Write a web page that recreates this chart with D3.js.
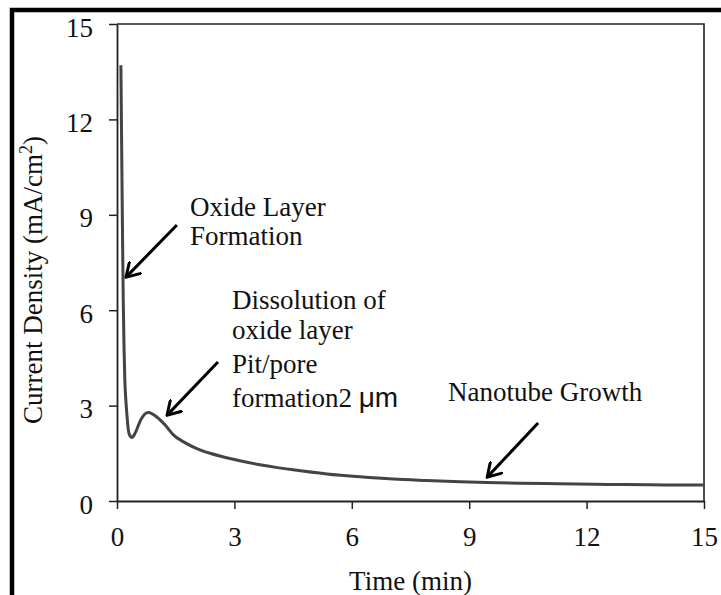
<!DOCTYPE html>
<html>
<head>
<meta charset="utf-8">
<script src="https://cdn.jsdelivr.net/npm/d3@7"></script>
<style>
  html, body { margin: 0; padding: 0; background: #fff; }
  svg { display: block; }
  text { font-family: "Liberation Serif", "Times New Roman", serif; fill: #111; }
</style>
</head>
<body>
<script>
// Anodization current transient: current density vs. time
const timeMin = [0.10, 0.12, 0.14, 0.16, 0.18, 0.20, 0.23, 0.25, 0.29, 0.33, 0.375, 0.43, 0.50, 0.57, 0.63, 0.70, 0.80, 0.90, 1.01, 1.12, 1.23, 1.44, 1.70, 2.04, 2.38, 2.80, 3.23, 3.65, 4.10, 4.50, 5.36, 6.21, 7.06, 7.91, 8.77, 9.45, 10.3, 11.3, 12.2, 13.0, 14.0, 15.0];
const currentDensity = [13.7, 11.0, 8.5, 6.3, 4.8, 3.8, 3.1, 2.76, 2.23, 2.05, 2.0, 2.06, 2.23, 2.45, 2.6, 2.72, 2.78, 2.74, 2.65, 2.53, 2.39, 2.08, 1.86, 1.65, 1.50, 1.36, 1.24, 1.14, 1.05, 0.98, 0.85, 0.76, 0.69, 0.645, 0.605, 0.58, 0.56, 0.54, 0.525, 0.515, 0.505, 0.50];

const xTicks = [0, 3, 6, 9, 12, 15];
const yTicks = [0, 3, 6, 9, 12, 15];

// Annotation arrows: [tailTime, tailCurrent, tipTime, tipCurrent]
const arrowOxide = [1.53, 8.68, 0.23, 7.04];
const arrowDissolution = [2.58, 4.37, 1.28, 2.70];
const arrowGrowth = [10.76, 2.45, 9.46, 0.75];

const W = 721, H = 595;
const margin = { left: 117, right: 17, top: 24, bottom: 94 };

const svg = d3.select("body").append("svg")
  .attr("width", W).attr("height", H);

// outer frame
svg.append("path")
  .attr("d", `M12,${H + 5} L12,10 L${W + 5},10`)
  .attr("fill", "none").attr("stroke", "#000").attr("stroke-width", 4.5);

const x = d3.scaleLinear().domain([0, 15]).range([margin.left, W - margin.right]);
const y = d3.scaleLinear().domain([0, 15]).range([H - margin.bottom, margin.top]);

// plot box (top and right)
svg.append("path")
  .attr("d", `M${x(0)},${y(15)} L${x(15)},${y(15)} L${x(15)},${y(0)}`)
  .attr("fill", "none").attr("stroke", "#222").attr("stroke-width", 1.6);

const xAxis = svg.append("g")
  .attr("transform", `translate(0,${y(0)})`)
  .call(d3.axisBottom(x).tickValues(xTicks).tickSize(8).tickSizeOuter(0).tickPadding(18).tickFormat(d3.format("d")));
const yAxis = svg.append("g")
  .attr("transform", `translate(${x(0)},0)`)
  .call(d3.axisLeft(y).tickValues(yTicks).tickSize(8).tickSizeOuter(0).tickPadding(16).tickFormat(d3.format("d")));

[xAxis, yAxis].forEach(g => {
  g.select(".domain").attr("stroke", "#222").attr("stroke-width", 1.8);
  g.selectAll(".tick line").attr("stroke", "#222").attr("stroke-width", 1.5);
  g.selectAll(".tick text")
    .style("font-family", '"Liberation Serif", "Times New Roman", serif')
    .style("font-size", "27px").attr("fill", "#111");
});
yAxis.selectAll(".tick text").attr("dy", "12px");

// axis titles
svg.append("text")
  .attr("x", (x(0) + x(15)) / 2).attr("y", 590)
  .attr("text-anchor", "middle").style("font-size", "27px")
  .text("Time (min)");

const yTitle = svg.append("text")
  .attr("transform", `translate(42,280) rotate(-90)`)
  .attr("text-anchor", "middle").style("font-size", "27px");
yTitle.append("tspan").text("Current Density (mA/cm");
yTitle.append("tspan").attr("dy", "-10").style("font-size", "18px").text("2");
yTitle.append("tspan").attr("dy", "10").text(")");

// current transient
const line = d3.line()
  .x((d, i) => x(timeMin[i]))
  .y(d => y(d))
  .curve(d3.curveMonotoneX);

svg.append("path")
  .datum(currentDensity)
  .attr("d", line)
  .attr("fill", "none")
  .attr("stroke", "#444")
  .attr("stroke-width", 3)
  .attr("stroke-linejoin", "round");

// arrows with open heads
svg.append("defs").append("marker")
  .attr("id", "head")
  .attr("viewBox", "-14 -9 16 18")
  .attr("refX", 0).attr("refY", 0)
  .attr("markerWidth", 16).attr("markerHeight", 18)
  .attr("markerUnits", "userSpaceOnUse")
  .attr("orient", "auto")
  .append("path")
  .attr("d", "M-13,-8 L0,0 L-13,8")
  .attr("fill", "none").attr("stroke", "#000").attr("stroke-width", 3)
  .attr("stroke-linecap", "round").attr("stroke-linejoin", "miter");

[arrowOxide, arrowDissolution, arrowGrowth].forEach(a => {
  svg.append("line")
    .attr("x1", x(a[0])).attr("y1", y(a[1]))
    .attr("x2", x(a[2])).attr("y2", y(a[3]))
    .attr("stroke", "#000").attr("stroke-width", 3)
    .attr("marker-end", "url(#head)");
});

// annotation labels
function label(px, py, str) {
  return svg.append("text").attr("x", px).attr("y", py)
    .style("font-size", "27px").text(str);
}
label(190, 216, "Oxide Layer");
label(190, 245, "Formation");
label(232, 309, "Dissolution of");
label(232, 339, "oxide layer");
label(232, 373, "Pit/pore");
const f = label(232, 407, "formation2 ");
f.append("tspan")
  .style("font-family", '"Liberation Sans", Arial, sans-serif')
  .style("font-size", "28px").text("μm");
label(448, 401, "Nanotube Growth");
</script>
</body>
</html>
